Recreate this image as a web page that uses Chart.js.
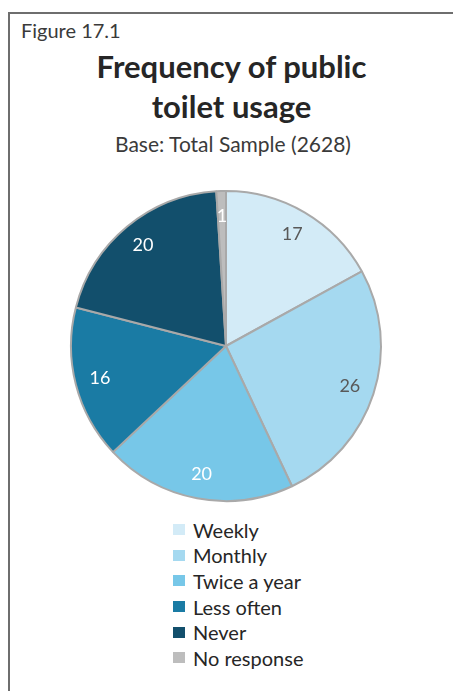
<!DOCTYPE html>
<html>
<head>
<meta charset="utf-8">
<script src="https://cdn.jsdelivr.net/npm/chart.js@4/dist/chart.umd.min.js"></script>
<style>
  html, body { margin:0; padding:0; background:#fff; width:453px; height:691px; overflow:hidden; font-family: Lato, "Open Sans", sans-serif; }
  #frame { position:absolute; left:8px; top:12px; width:460px; height:700px; border:2px solid #6e6e6e; box-sizing:border-box; }
  #fig { position:absolute; left:21px; top:18px; font-size:20px; line-height:24px; color:#3a3a3a; }
  #title { position:absolute; left:0; width:463px; top:46px; text-align:center; font-weight:bold; font-size:31px; line-height:40px; color:#262626; }
  #sub { position:absolute; left:0; width:466px; top:131px; text-align:center; font-size:21px; line-height:25px; color:#3a3a3a; }
  #wrap { position:absolute; left:66px; top:186px; width:320px; height:320px; }
  #legend { position:absolute; left:173px; top:517px; }
  .li { height:25.6px; display:flex; align-items:center; font-size:20px; color:#262626; }
  .sw { width:12px; height:11px; margin-right:8px; }
</style>
</head>
<body>
<div id="frame"></div>
<div id="fig">Figure 17.1</div>
<div id="title">Frequency of public<br>toilet usage</div>
<div id="sub">Base: Total Sample (2628)</div>
<div id="wrap"><canvas id="c" width="320" height="320"></canvas></div>
<div id="legend"></div>
<script>
const categories = ["Weekly", "Monthly", "Twice a year", "Less often", "Never", "No response"];
const values = [17, 26, 20, 16, 20, 1];
const colors = ["#d3ebf7", "#a5d9f0", "#77c7e8", "#1a7ba4", "#124f6c", "#bdbdbd"];
const labelColors = ["#595959", "#595959", "#ffffff", "#ffffff", "#ffffff", "#ffffff"];

const legend = document.getElementById('legend');
categories.forEach((c, i) => {
  const d = document.createElement('div'); d.className = 'li';
  d.innerHTML = '<span class="sw" style="background:' + colors[i] + '"></span>' + c;
  legend.appendChild(d);
});

const valueLabels = {
  id: 'valueLabels',
  afterDatasetsDraw(chart) {
    const ctx = chart.ctx;
    const meta = chart.getDatasetMeta(0);
    ctx.save();
    ctx.font = '18px Lato, "Open Sans", sans-serif';
    ctx.textAlign = 'center';
    ctx.textBaseline = 'middle';
    meta.data.forEach((arc, i) => {
      const p = arc.getProps(['x','y','startAngle','endAngle','outerRadius'], true);
      const a = (p.startAngle + p.endAngle) / 2;
      const r = p.outerRadius * 0.84;
      ctx.fillStyle = labelColors[i];
      ctx.fillText(String(values[i]), p.x + Math.cos(a) * r, p.y + Math.sin(a) * r);
    });
    ctx.restore();
  }
};

new Chart(document.getElementById('c'), {
  type: 'pie',
  data: {
    labels: categories,
    datasets: [{ data: values, backgroundColor: colors, borderColor: '#a9a9a9', borderWidth: 2 }]
  },
  options: {
    responsive: false,
    animation: false,
    layout: { padding: 4 },
    plugins: { legend: { display: false }, tooltip: { enabled: false } }
  },
  plugins: [valueLabels]
});
</script>
</body>
</html>
